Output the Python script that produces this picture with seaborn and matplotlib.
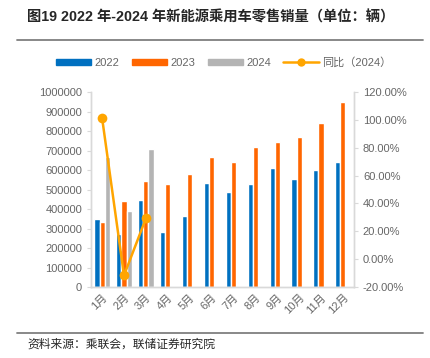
import pandas as pd
import seaborn as sns
import matplotlib.pyplot as plt
from matplotlib.patches import Patch
from matplotlib.lines import Line2D
from matplotlib.ticker import FuncFormatter

# 数据（单位：辆）
months = ["1月", "2月", "3月", "4月", "5月", "6月", "7月", "8月", "9月", "10月", "11月", "12月"]
sales_2022 = [350000, 272000, 445000, 282000, 364000, 532000, 486000, 530000, 611000, 556000, 600000, 643000]
sales_2023 = [332000, 439000, 546000, 527000, 580000, 665000, 641000, 716000, 746000, 771000, 841000, 947000]
sales_2024 = [668000, 388000, 706000]
yoy_2024 = [101.3, -11.6, 29.3]

years = ["2022", "2023", "2024"]
colors = ["#0070C0", "#FF6600", "#B4B4B4"]
line_color = "#FFA500"

rows = []
for m, v in zip(months, sales_2022):
    rows.append((m, "2022", v))
for m, v in zip(months, sales_2023):
    rows.append((m, "2023", v))
for i, m in enumerate(months):
    v = sales_2024[i] if i < len(sales_2024) else float("nan")
    rows.append((m, "2024", v))
df = pd.DataFrame(rows, columns=["month", "year", "sales"])

sns.set_style("white")
plt.rcParams["font.family"] = ["Liberation Sans", "Noto Sans CJK SC", "DejaVu Sans"]
plt.rcParams["axes.unicode_minus"] = False

gray_txt = "#666666"
spine_c = "#D9D9D9"

fig = plt.figure(figsize=(4.3, 3.58), dpi=100)
ax = fig.add_axes([0.212, 0.198, 0.611, 0.545])

sns.barplot(data=df, x="month", y="sales", hue="year", hue_order=years,
            palette=colors, width=0.7, ax=ax, legend=False, saturation=1)
ax.set_ylim(0, 1000000)
ax.set_yticks(range(0, 1000001, 100000))
ax.yaxis.set_major_formatter(FuncFormatter(lambda v, p: f"{int(v)}"))
ax.set_xlim(-0.5, 11.5)
ax.set_xlabel("")
ax.set_ylabel("")

ax2 = ax.twinx()
sns.lineplot(x=months[:len(yoy_2024)], y=yoy_2024, ax=ax2, color=line_color,
             linewidth=1.8, marker="o", markersize=7, markeredgewidth=0)
ax2.set_ylim(-20, 120)
ax2.set_yticks(range(-20, 121, 20))
ax2.yaxis.set_major_formatter(FuncFormatter(lambda v, p: f"{v:.2f}%"))

for a in (ax, ax2):
    for s in a.spines.values():
        s.set_color(spine_c)
        s.set_linewidth(1)
    a.spines["top"].set_visible(False)
    a.tick_params(axis="both", colors=gray_txt, labelsize=8, length=3, width=0.8)
    a.tick_params(axis="y", color=spine_c)
ax.tick_params(axis="x", length=0)
ax2.tick_params(axis="y", direction="out")
plt.setp(ax.get_xticklabels(), rotation=45, ha="right", rotation_mode="anchor")

# 图例
handles = [Patch(color=c, label=y) for c, y in zip(colors, years)]
handles.append(Line2D([0], [0], color=line_color, lw=1.8, marker="o", markersize=6,
                      markeredgewidth=0, label="同比（2024）"))
leg = fig.legend(handles=handles, loc="center", bbox_to_anchor=(0.52, 0.826), ncol=4,
                 frameon=False, fontsize=8, handlelength=3.2, handleheight=0.45,
                 columnspacing=1.1, handletextpad=0.3)
for t in leg.get_texts():
    t.set_color(gray_txt)

# 标题与来源
fig.text(0.063, 0.952, "图19 2022 年-2024 年新能源乘用车零售销量（单位：辆）",
         fontsize=10.3, fontweight="bold", va="center", ha="left")
fig.add_artist(Line2D([0.04, 0.984], [0.888, 0.888], color="#7F7F7F", lw=1.3))
fig.add_artist(Line2D([0.04, 0.984], [0.07, 0.07], color="#7F7F7F", lw=1.3))
fig.text(0.063, 0.036, "资料来源：乘联会，联储证券研究院", fontsize=8.5, va="center", ha="left")

fig.savefig("out.png", dpi=100)
